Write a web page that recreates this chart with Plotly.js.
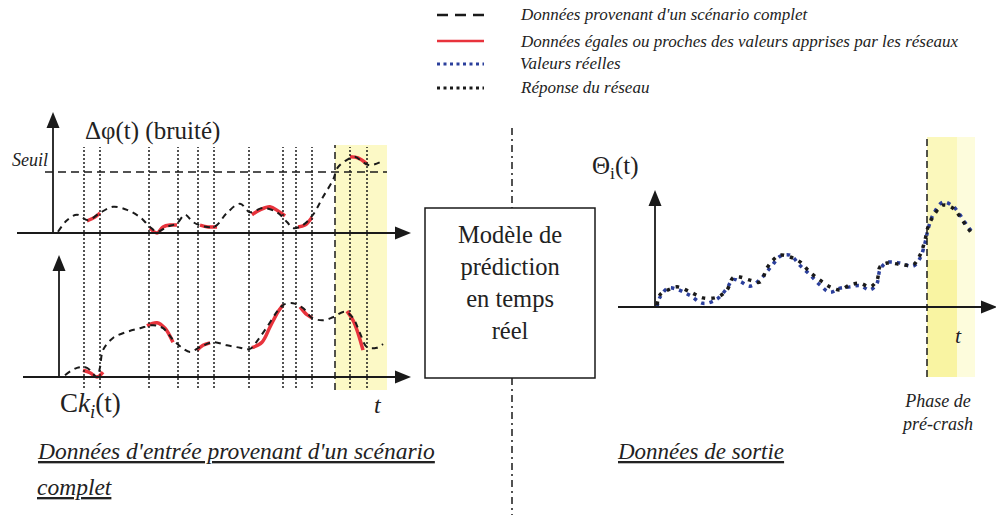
<!DOCTYPE html>
<html><head><meta charset="utf-8">
<script src="https://cdn.plot.ly/plotly-3.0.1.min.js"></script>
</head><body style="margin:0"><div id="chart"></div>
<script>
// ---------- data ----------
// Δφ(t) (noisy) – complete scenario
const phiT = [5,14,24,35,47,60,74,87,97,104,114,124,132,140,150,162,174,187,197,210,224,234,240,250,260,270,280,285,294,302,310,317,327];
const phiV = [0.02,0.21,0.30,0.21,0.33,0.43,0.38,0.26,0.10,0.02,0.10,0.16,0.30,0.18,0.11,0.11,0.33,0.48,0.34,0.41,0.34,0.18,0.08,0.13,0.30,0.59,0.87,1.08,1.20,1.25,1.16,1.11,1.16];
// Δφ(t) segments equal/close to learned values
const phiRedT = [34,42,47,null,97,104,110,117,124,null,147,155,164,null,199,207,217,225,232,null,245,252,259,null,297,305,314];
const phiRedV = [0.20,0.26,0.33,null,0.08,0.00,0.10,0.13,0.13,null,0.13,0.10,0.10,null,0.30,0.38,0.43,0.36,0.28,null,0.10,0.13,0.26,null,1.25,1.23,1.13];
// Ck_i(t) – complete scenario
const ckT = [12,24,34,44,47,50,60,74,87,100,110,120,129,137,147,160,174,187,197,205,214,224,230,240,250,259,270,280,292,300,307,314,324,330];
const ckV = [0.03,0.15,0.15,0.00,0.16,0.44,0.64,0.74,0.80,0.85,0.80,0.61,0.48,0.41,0.49,0.57,0.52,0.48,0.46,0.61,0.82,1.07,1.18,1.21,1.13,0.97,0.93,0.98,1.07,0.97,0.72,0.49,0.48,0.54];
const ckRedT = [30,37,44,50,null,94,104,112,120,null,144,150,157,null,199,209,217,225,230,null,247,254,259,null,294,300,305,310];
const ckRedV = [0.11,0.07,0.00,0.08,null,0.84,0.89,0.80,0.57,null,0.44,0.52,0.56,null,0.48,0.57,0.82,1.07,1.18,null,1.15,1.02,0.97,null,1.08,0.93,0.72,0.44];
// Θ_i(t) – output: network response and real values
const thetaT = [2,5,13,22,35,48,62,72,78,85,95,105,112,118,125,135,145,155,165,175,185,195,205,215,222,225,232,245,258,265,270,273,278,288,298,305,312,318];
const thetaNet = [0.03,0.20,0.28,0.33,0.25,0.15,0.16,0.28,0.48,0.49,0.44,0.41,0.64,0.77,0.85,0.82,0.74,0.57,0.44,0.33,0.28,0.36,0.39,0.33,0.44,0.66,0.72,0.70,0.69,0.85,1.10,1.31,1.48,1.67,1.62,1.48,1.31,1.18];
const thetaReal = [0.00,0.16,0.31,0.29,0.19,0.06,0.13,0.31,0.45,0.42,0.34,0.45,0.58,0.70,0.83,0.85,0.68,0.53,0.36,0.24,0.31,0.33,0.35,0.28,0.39,0.61,0.73,0.72,0.67,0.80,1.05,1.27,1.51,1.72,1.65,1.51,1.34,1.21];
// event instants (dotted verticals) and pre-crash phase
const eventTimes = [31,47,96,125,145,161,196,230,243,259,297,314];
const crashStartIn = 282, crashEndIn = 334;
const crashStartOut = 272, crashMidOut = 302, crashEndOut = 320;
const seuil = 1.0;
const legendLabels = ["Données provenant d'un scénario complet",
  "Données égales ou proches des valeurs apprises par les réseaux",
  "Valeurs réelles","Réponse du réseau"];

// ---------- layout helpers ----------
const W=996,H=515;
const X=p=>p/W, Y=p=>1-p/H;
const SERIF = 'Liberation Serif';
const INK = '#1a1a1a', RED = '#e8333c', BLUE = '#2b3f9c';

const traces = [
  {x:phiRedT,y:phiRedV,xaxis:'x',yaxis:'y',mode:'lines',connectgaps:false,line:{color:RED,width:3.5,shape:'spline'},hoverinfo:'skip'},
  {x:phiT,y:phiV,xaxis:'x',yaxis:'y',mode:'lines',line:{color:INK,width:2,dash:'6px,5px',shape:'spline'},hoverinfo:'skip'},
  {x:ckRedT,y:ckRedV,xaxis:'x',yaxis:'y2',mode:'lines',connectgaps:false,line:{color:RED,width:3.5,shape:'spline'},hoverinfo:'skip'},
  {x:ckT,y:ckV,xaxis:'x',yaxis:'y2',mode:'lines',line:{color:INK,width:2,dash:'6px,5px',shape:'spline'},hoverinfo:'skip'},
  {x:thetaT,y:thetaReal,xaxis:'x3',yaxis:'y3',mode:'lines',line:{color:BLUE,width:3.5,dash:'3.5px,5px',shape:'spline'},hoverinfo:'skip'},
  {x:thetaT,y:thetaNet,xaxis:'x3',yaxis:'y3',mode:'lines',line:{color:INK,width:3.5,dash:'3.5px,6px',shape:'spline'},hoverinfo:'skip'}
];

const shapes = [];
shapes.push({type:'rect',xref:'x',yref:'paper',x0:crashStartIn,x1:crashEndIn,y0:Y(390),y1:Y(145),fillcolor:'#fcf9c6',line:{width:0},layer:'below'});
shapes.push({type:'rect',xref:'x3',yref:'paper',x0:crashStartOut,x1:crashEndOut,y0:Y(377),y1:Y(137),fillcolor:'#fdfcdc',line:{width:0},layer:'below'});
shapes.push({type:'rect',xref:'x3',yref:'paper',x0:crashStartOut,x1:crashMidOut,y0:Y(377),y1:Y(137),fillcolor:'#fbf8bc',line:{width:0},layer:'below'});
shapes.push({type:'rect',xref:'x3',yref:'paper',x0:crashStartOut,x1:crashMidOut,y0:Y(377),y1:Y(260),fillcolor:'#f9f4a2',line:{width:0},layer:'below'});
eventTimes.forEach(t=>shapes.push({type:'line',xref:'x',yref:'paper',x0:t,x1:t,y0:Y(388),y1:Y(147),line:{color:INK,width:1.5,dash:'2px,2px'}}));
shapes.push({type:'line',xref:'x',yref:'paper',x0:crashStartIn,x1:crashStartIn,y0:Y(390),y1:Y(145),line:{color:INK,width:1.5,dash:'7px,4px'}});
shapes.push({type:'line',xref:'x3',yref:'paper',x0:crashStartOut,x1:crashStartOut,y0:Y(377),y1:Y(137),line:{color:INK,width:1.5,dash:'7px,4px'}});
shapes.push({type:'line',xref:'x',yref:'y',x0:-8,x1:crashEndIn,y0:seuil,y1:seuil,line:{color:INK,width:1.5,dash:'8px,5px'}});
const axLine=(x0,y0,x1,y1)=>shapes.push({type:'line',xref:'paper',yref:'paper',x0:X(x0),y0:Y(y0),x1:X(x1),y1:Y(y1),line:{color:INK,width:1.8}});
const triUp=(tx,ty)=>shapes.push({type:'path',xref:'paper',yref:'paper',path:`M${X(tx)},${Y(ty)} L${X(tx-6.5)},${Y(ty+16)} L${X(tx+6.5)},${Y(ty+16)} Z`,fillcolor:INK,line:{width:0}});
const triRight=(tx,ty)=>shapes.push({type:'path',xref:'paper',yref:'paper',path:`M${X(tx)},${Y(ty)} L${X(tx-16)},${Y(ty-6.5)} L${X(tx-16)},${Y(ty+6.5)} Z`,fillcolor:INK,line:{width:0}});
axLine(53,233,53,125); triUp(53,112);
axLine(17,233,398,233); triRight(411,233);
axLine(59,377,59,268); triUp(59,255);
axLine(23,377,398,377); triRight(411,377);
axLine(655,307,655,203); triUp(655,190);
axLine(618,307,984,307); triRight(997,307);
shapes.push({type:'rect',xref:'paper',yref:'paper',x0:X(425),x1:X(595),y0:Y(378),y1:Y(208),line:{color:INK,width:1.5},fillcolor:'rgba(0,0,0,0)'});
shapes.push({type:'line',xref:'paper',yref:'paper',x0:X(512),x1:X(512),y0:Y(128),y1:Y(208),line:{color:INK,width:1.5,dash:'7px,4px,2px,4px'}});
shapes.push({type:'line',xref:'paper',yref:'paper',x0:X(512),x1:X(512),y0:Y(378),y1:Y(515),line:{color:INK,width:1.5,dash:'7px,4px,2px,4px'}});
const legY=[15,41,64,88];
shapes.push({type:'line',xref:'paper',yref:'paper',x0:X(437),x1:X(484),y0:Y(legY[0]),y1:Y(legY[0]),line:{color:INK,width:2.5,dash:'11px,7px'}});
shapes.push({type:'line',xref:'paper',yref:'paper',x0:X(437),x1:X(484),y0:Y(legY[1]),y1:Y(legY[1]),line:{color:RED,width:2.5}});
shapes.push({type:'line',xref:'paper',yref:'paper',x0:X(437),x1:X(484),y0:Y(legY[2]),y1:Y(legY[2]),line:{color:BLUE,width:3,dash:'3px,3.5px'}});
shapes.push({type:'line',xref:'paper',yref:'paper',x0:X(437),x1:X(484),y0:Y(legY[3]),y1:Y(legY[3]),line:{color:INK,width:3,dash:'3px,3.5px'}});

const ann=(px,py,text,size,opts)=>Object.assign({xref:'paper',yref:'paper',x:X(px),y:Y(py),text:text,showarrow:false,
  font:{family:SERIF,size:size,color:'#222'},xanchor:'left',yanchor:'middle'},opts||{});
const annotations=[];
legendLabels.forEach((s,i)=>annotations.push(ann(518,legY[i],'<i>'+s+'</i>',17)));
annotations.push(ann(50,160,'<i>Seuil</i>',18,{xanchor:'right'}));
annotations.push(ann(83,131,'Δφ(t) (bruité)',25));
annotations.push(ann(590,167,'Θ<sub>i</sub>(t)',25));
annotations.push(ann(58,405,'C<i>k</i><sub><i>i</i></sub>(t)',27));
annotations.push(ann(378,405,'<i>t</i>',24,{xanchor:'center'}));
annotations.push(ann(958,335,'<i>t</i>',22,{xanchor:'center'}));
annotations.push(ann(510,282,'Modèle de<br>prédiction<br>en temps<br>réel',24.5,{xanchor:'center'}));
annotations.push(ann(937,412,'<i>Phase de<br>pré-crash</i>',18,{xanchor:'center'}));
annotations.push(ann(35,451,"<i><u>Données d'entrée provenant d'un scénario</u></i>",23.5));
annotations.push(ann(35,487,"<i><u>complet</u></i>",23.5));
annotations.push(ann(615,451,"<i><u>Données de sortie</u></i>",23));

const hidden={visible:false,fixedrange:true};
const layout={
  width:W,height:H,margin:{l:0,r:0,t:0,b:0},paper_bgcolor:'#fff',plot_bgcolor:'rgba(0,0,0,0)',showlegend:false,
  font:{family:SERIF,color:'#222'},
  xaxis:Object.assign({domain:[0,X(420)],range:[-53,367]},hidden),
  yaxis:Object.assign({domain:[Y(240),Y(105)],range:[-7/61,128/61],anchor:'x'},hidden),
  yaxis2:Object.assign({domain:[Y(392),Y(250)],range:[-15/61,127/61],anchor:'x'},hidden),
  xaxis3:Object.assign({domain:[X(600),1],range:[-55,341],anchor:'y3'},hidden),
  yaxis3:Object.assign({domain:[Y(320),Y(130)],range:[-13/61,177/61],anchor:'x3'},hidden),
  shapes:shapes,annotations:annotations
};
Plotly.newPlot('chart',traces,layout,{staticPlot:true,displayModeBar:false});
</script></body></html>
